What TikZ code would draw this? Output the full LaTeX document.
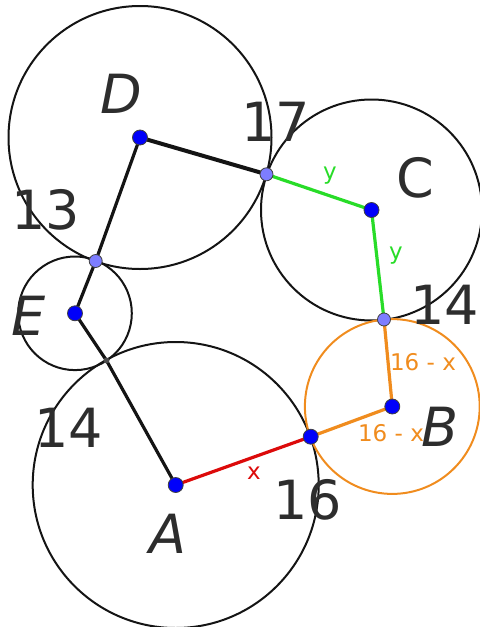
\documentclass[tikz,border=0pt]{standalone}
\usepackage{fontspec}
\setmainfont{DejaVu Sans}
\definecolor{cEdge}{RGB}{20,20,20}
\definecolor{cTxt}{RGB}{45,45,45}
\definecolor{cPt}{RGB}{0,0,250}
\definecolor{cTan}{RGB}{125,125,255}
\definecolor{cGrn}{RGB}{40,220,40}
\definecolor{cOra}{RGB}{240,140,30}
\definecolor{cRed}{RGB}{220,10,10}

\begin{document}
\begin{tikzpicture}[
  x=0.5pt, y=-0.5pt, line join=round, line cap=round,
  circ/.style ={draw=cEdge, line width=1pt},
  seg/.style  ={draw=cEdge, line width=1.6pt},
  ctr/.style  ={circle, draw=black!75, fill=cPt, line width=0.4pt,
                inner sep=0pt, minimum size=7.5pt},
  tng/.style  ={ctr, fill=cTan, minimum size=6.5pt},
  big/.style  ={font=\fontsize{27}{27}\selectfont, text=cTxt},
  lbl/.style  ={font=\fontsize{11.5}{12}\selectfont},
]
\useasboundingbox (0,0) rectangle (480,627);

% centres and touching points, in pixels of the reference
\coordinate (D) at (140,137.5);
\coordinate (C) at (371.5,210);
\coordinate (B) at (392.3,406.5);
\coordinate (A) at (175.7,485);
\coordinate (E) at (75,313.3);
\coordinate (DC) at (266.5,174.3);
\coordinate (CB) at (384,319.5);
\coordinate (BA) at (310.7,436.7);
\coordinate (AE) at (106.5,360.5);
\coordinate (ED) at (95.7,261);

% ----- circles ------------------------------------------------------------
\draw[circ] (D) circle[radius=131.5];
\draw[circ] (C) circle[radius=110.5];
\draw[circ] (A) circle[radius=143];
\draw[circ] (E) circle[radius=56.8];
\draw[circ, draw=cOra] (B) circle[radius=87.4];

% ----- radii --------------------------------------------------------------
\draw[seg, line width=2pt] (D) -- (DC);
\draw[seg] (D) -- (ED) -- (E) -- (AE) -- (A);
\draw[seg, draw=cRed] (A) -- (BA) node[lbl, cRed, pos=0.58, below=1pt] {x};
\draw[seg, draw=cOra] (BA) -- (B);
\draw[seg, draw=cOra] (B) -- (CB);
\draw[seg, draw=cGrn] (CB) -- (C);
\draw[seg, draw=cGrn] (C) -- (DC);

% ----- points -------------------------------------------------------------
\node[ctr] (Dpt) at (D) {};
\node[ctr] (Cpt) at (C) {};
\node[ctr] (Bpt) at (B) {};
\node[ctr] (Apt) at (A) {};
\node[ctr] (Ept) at (E) {};
\node[ctr] (BApt) at (BA) {};
\node[tng] (DCpt) at (DC) {};
\node[tng] (CBpt) at (CB) {};
\node[tng] (EDpt) at (ED) {};
\node[circle, fill=black!70, inner sep=0pt, minimum size=3pt] (AEpt) at (AE) {};

% ----- names and lengths --------------------------------------------------
\node[big] (labD) at (121,94) {\itshape D};
\node[big] (labC) at (415,178) {C};
\node[big] (labB) at (440,427) {\itshape B};
\node[big] (labA) at (168,534) {\itshape A};
\node[big] (labE) at (29,316) {\itshape E};
\node[big] (n17) at (276,122) {17};
\node[big] (n13) at (46,210) {13};
\node[big] (n14r) at (445,305) {14};
\node[big] (n14l) at (69,428) {14};
\node[big] (n16) at (308,500) {16};
\node[lbl, cGrn] (ly1) at (330,176) {y};
\node[lbl, cGrn] (ly2) at (396,256) {y};
\node[lbl, cOra] (lb1) at (423,362) {16 - x};
\node[lbl, cOra] (lb2) at (391,433) {16 - x};

\end{tikzpicture}
\end{document}
